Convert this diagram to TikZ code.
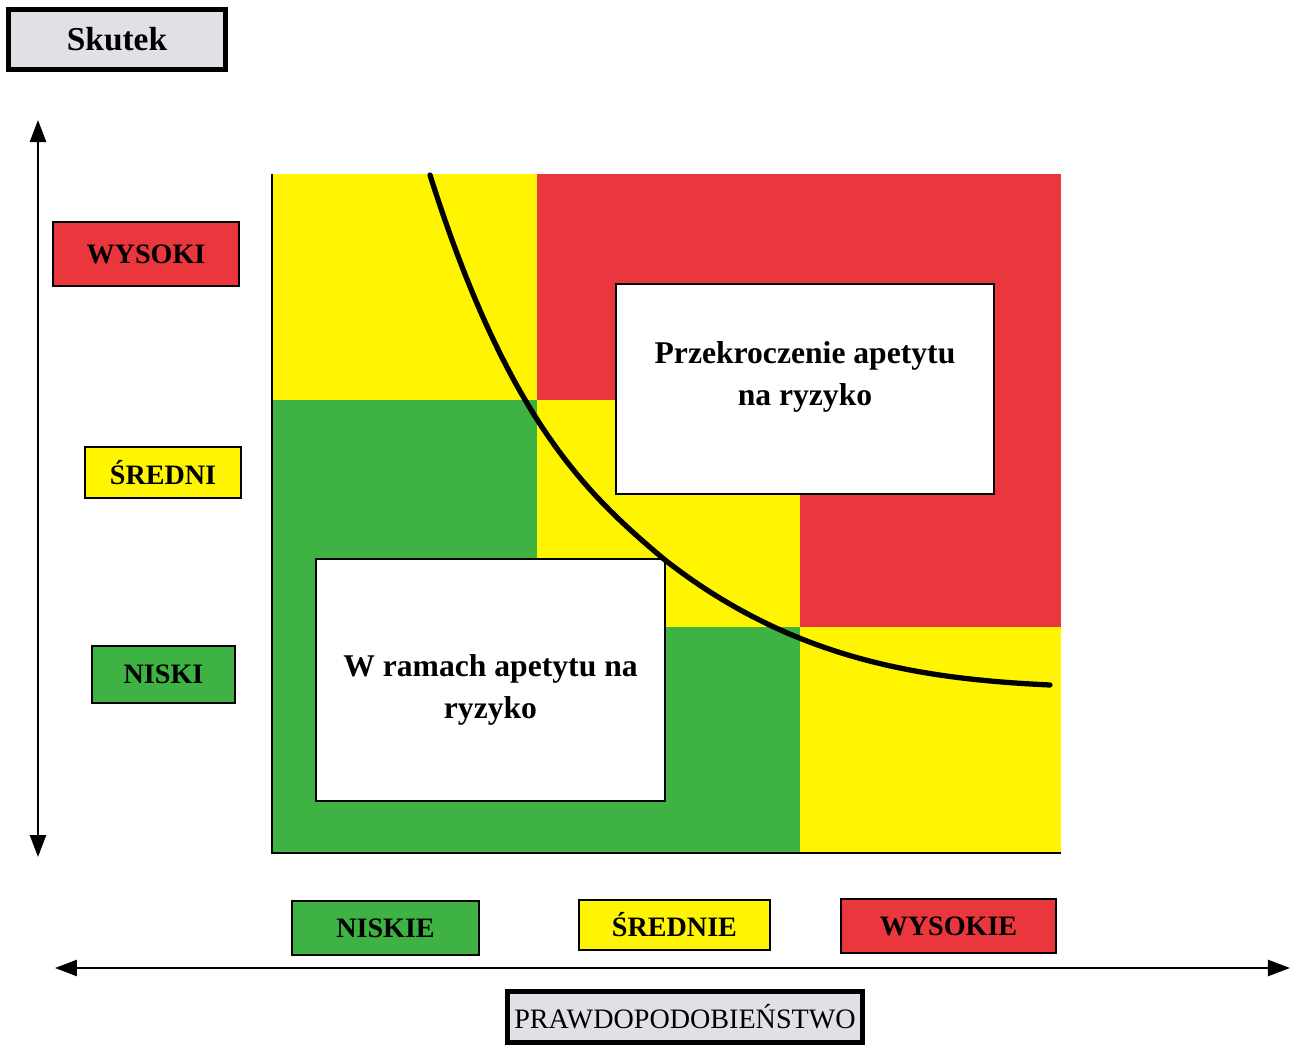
\documentclass[tikz,border=0pt]{standalone}
\usepackage{fontspec}
\setmainfont{Liberation Serif}
\usetikzlibrary{arrows.meta}
\definecolor{riskred}{RGB}{233,55,61}
\definecolor{riskyellow}{RGB}{255,245,0}
\definecolor{riskgreen}{RGB}{62,178,66}
\definecolor{titlegray}{RGB}{224,224,230}

\begin{document}
\begin{tikzpicture}[x=1mm,y=1mm,font=\fontsize{8}{10}\selectfont\bfseries,
  levelbox/.style={draw,line width=.6pt,inner sep=0pt},
  titlebox/.style={draw,line width=1.4pt,fill=titlegray,inner sep=0pt},
  whitebox/.style={draw,line width=.6pt,fill=white,inner sep=0pt},
  axis/.style={line width=.7pt,{Triangle[length=2.2mm,width=1.6mm]}-{Triangle[length=2.2mm,width=1.6mm]}}]
\path[use as bounding box] (0,0) rectangle (129.8,104.7);
% risk matrix: rows top to bottom, columns left to right
\fill[riskyellow] (27.2,64.7) rectangle (53.7,87.3);
\fill[riskred] (53.7,64.7) rectangle (106.1,87.3);
\fill[riskgreen] (27.2,42.0) rectangle (53.7,64.7);
\fill[riskyellow] (53.7,42.0) rectangle (80.0,64.7);
\fill[riskred] (80.0,42.0) rectangle (106.1,64.7);
\fill[riskgreen] (27.2,19.4) rectangle (80.0,42.0);
\fill[riskyellow] (80.0,19.4) rectangle (106.1,42.0);
\draw[line width=.6pt] (27.2,87.3) -- (27.2,19.4) -- (106.1,19.4);
\node[whitebox,minimum width=37.8mm,minimum height=21mm] (przekr) at (80.5,65.8) {};
\node[align=center,font=\fontsize{9}{12}\selectfont\bfseries] at ([yshift=1.2mm]przekr.center)
  {Przekroczenie apetytu\\na ryzyko};
\node[whitebox,minimum width=34.9mm,minimum height=24.2mm] (wramach) at (49.05,36.7) {};
\node[align=center,font=\fontsize{9}{12}\selectfont\bfseries] at ([yshift=-1mm]wramach.center)
  {W ramach apetytu na\\ryzyko};
% appetite boundary
\draw[line width=1.5pt,line cap=round] (43.0,87.2) .. controls (50.8,62.6) and (58.7,55.25) .. (66.5,48.7)
  .. controls (79.3,38.7) and (92.2,36.8) .. (105.0,36.2);
% axes
\coordinate (vtop) at (3.8,92.7);
\coordinate (vbot) at (3.8,19.0);
\draw[axis] (vbot) -- (vtop);
\coordinate (hleft) at (5.5,7.9);
\coordinate (hright) at (129.0,7.9);
\draw[axis] (hleft) -- (hright);
\node[titlebox,minimum width=21.7mm,minimum height=6mm,font=\fontsize{9.5}{11}\selectfont\bfseries] (skutek) at (11.7,100.75) {Skutek};
\node[levelbox,fill=riskred,minimum width=18.6mm,minimum height=6.4mm] (wysoki) at (14.6,79.3) {WYSOKI};
\node[levelbox,fill=riskyellow,minimum width=15.6mm,minimum height=5.1mm] (sredni) at (16.3,57.45) {ŚREDNI};
\node[levelbox,fill=riskgreen,minimum width=14.3mm,minimum height=5.7mm] (niski) at (16.35,37.25) {NISKI};
\node[levelbox,fill=riskgreen,minimum width=18.7mm,minimum height=5.4mm] (niskie) at (38.55,11.9) {NISKIE};
\node[levelbox,fill=riskyellow,minimum width=19.1mm,minimum height=5mm] (srednie) at (67.45,12.2) {ŚREDNIE};
\node[levelbox,fill=riskred,minimum width=21.5mm,minimum height=5.4mm] (wysokie) at (94.85,12.1) {WYSOKIE};
\node[titlebox,minimum width=35.5mm,minimum height=5.1mm,font=\fontsize{8}{10}\selectfont] (prawd) at (68.5,3.0) {PRAWDOPODOBIEŃSTWO};
\end{tikzpicture}
\end{document}
